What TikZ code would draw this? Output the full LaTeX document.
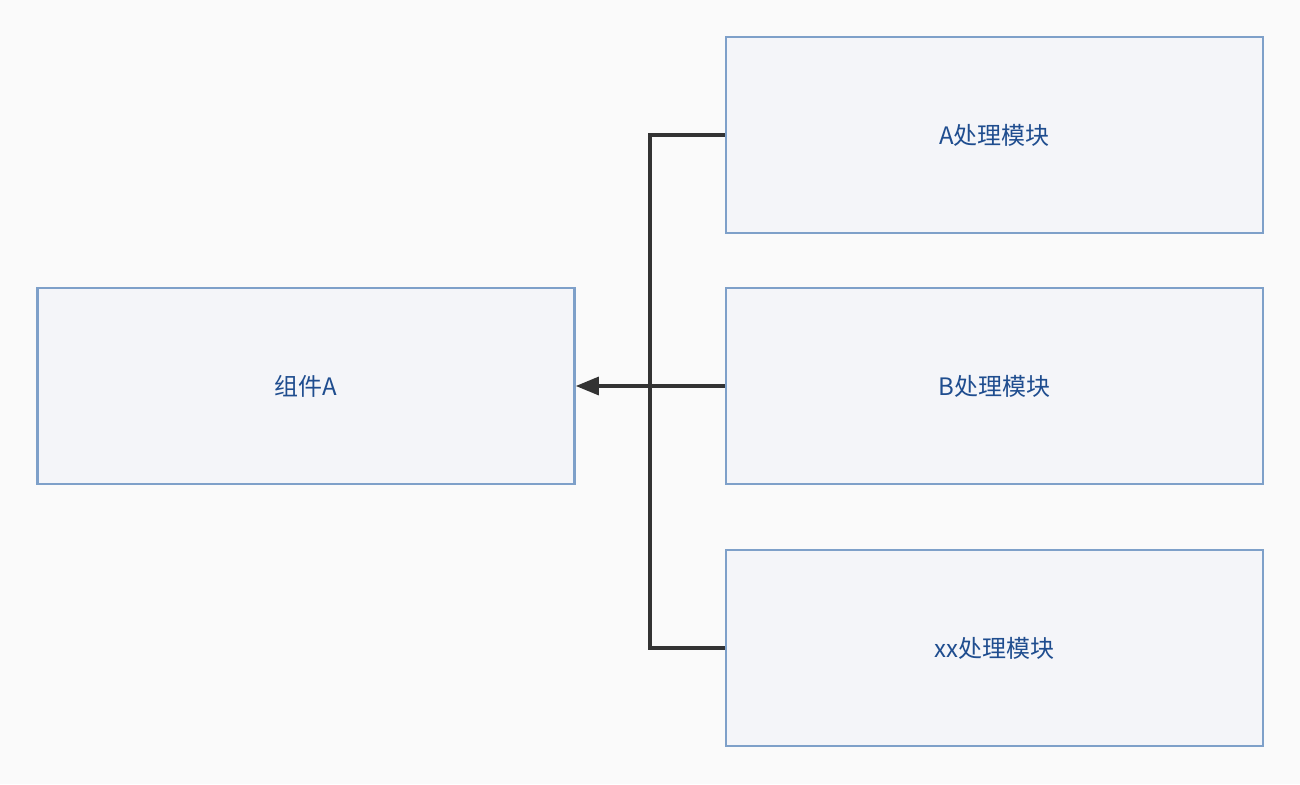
\documentclass[tikz,border=0pt]{standalone}
\usepackage{fontspec}
\setmainfont{Noto Sans CJK SC}
\usetikzlibrary{arrows.meta}
\definecolor{bg}{HTML}{FAFAFA}
\definecolor{boxfill}{HTML}{F4F5F9}
\definecolor{boxline}{HTML}{7EA0C9}
\definecolor{txt}{HTML}{1F4D8F}
\definecolor{conn}{HTML}{333333}
\tikzset{
  module/.style={draw=boxline, fill=boxfill, line width=2.6pt, minimum width=537pt, minimum height=196pt, inner sep=0pt, text=txt, font=\fontsize{24}{28}\selectfont},
  link/.style={draw=conn, line width=3.2pt},
  arrowlink/.style={link, -{Triangle[length=23pt,width=18pt]}}
}
\begin{document}
\begin{tikzpicture}[x=1pt,y=-1pt]
\fill[bg] (0,0) rectangle (1300,784);
\useasboundingbox (0,0) rectangle (1300,784);
\node[module] (comp) at (306,386) {组件A};
\node[module] (ma) at (994.5,135) {A处理模块};
\node[module] (mb) at (994.5,386) {B处理模块};
\node[module] (mx) at (994.5,648) {xx处理模块};
\coordinate (j1) at (650,135);
\coordinate (j3) at (650,648);
\draw[link] (ma.west) -- (j1) -- (650,386);
\draw[link] (mx.west) -- (j3) -- (650,386);
\draw[arrowlink] (mb.west) -- (comp.east);
\end{tikzpicture}
\end{document}
